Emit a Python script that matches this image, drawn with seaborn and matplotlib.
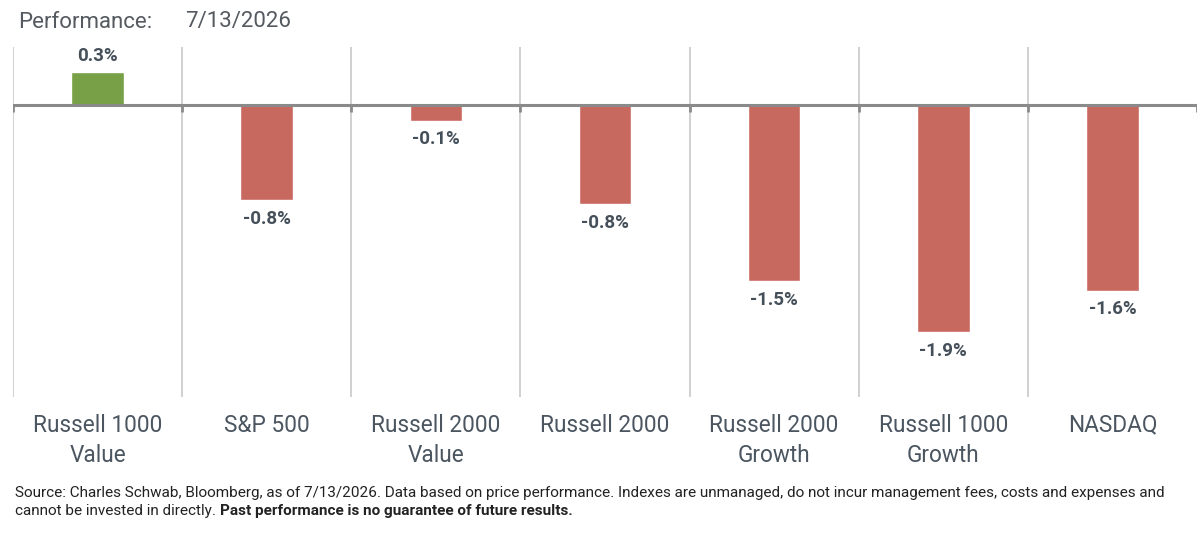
import numpy as np
import pandas as pd
import matplotlib.pyplot as plt
import seaborn as sns

# index names and one-day performance (%)
categories = ["Russell 1000\nValue", "S&P 500", "Russell 2000\nValue", "Russell 2000",
              "Russell 2000\nGrowth", "Russell 1000\nGrowth", "NASDAQ"]
values = [0.28, -0.80, -0.13, -0.83, -1.48, -1.91, -1.56]
labels = ["0.3%", "-0.8%", "-0.1%", "-0.8%", "-1.5%", "-1.9%", "-1.6%"]

GREEN = "#78a046"
RED = "#c8695f"
TXT = "#444f59"

sns.set_theme(style="white")
plt.rcParams["font.family"] = ["Roboto", "DejaVu Sans"]

df = pd.DataFrame({"index": categories, "perf": values})
colors = [GREEN if v >= 0 else RED for v in values]

fig = plt.figure(figsize=(12, 5.37), dpi=100)
ax = fig.add_axes([13 / 1200, 1 - 397 / 537, 1184 / 1200, 350 / 537])

sns.barplot(data=df, x="index", y="perf", hue="index", palette=colors,
            legend=False, width=0.31, saturation=1, ax=ax)

ax.set_xlim(-0.5, 6.5)
ax.set_ylim(-2.455, 0.49)

# category separators and zero line
ax.vlines(np.arange(-0.5, 6.0, 1.0), -2.455, 0.49, color="#c8c8c8", lw=1.2, zorder=0)
ax.axhline(0, color="#8a8a8a", lw=2.2, zorder=3)
ax.vlines(np.arange(-0.5, 7.0, 1.0), -0.06, 0, color="#8a8a8a", lw=2, zorder=3)

# data labels
for i, (v, lab) in enumerate(zip(values, labels)):
    if v >= 0:
        ax.annotate(lab, (i, v), xytext=(0, 5), textcoords="offset points",
                    ha="center", va="bottom", fontsize=13.5, fontweight="bold", color=TXT)
    else:
        ax.annotate(lab, (i, v), xytext=(0, -7), textcoords="offset points",
                    ha="center", va="top", fontsize=13.5, fontweight="bold", color=TXT)

ax.set_xlabel("")
ax.set_ylabel("")
ax.set_yticks([])
ax.tick_params(axis="x", length=0, pad=12, labelsize=16.3, labelcolor="#4b5661")
for t in ax.get_xticklabels():
    t.set_linespacing(1.4)
for s in ax.spines.values():
    s.set_visible(False)

# title
fig.text(18 / 1200, 1 - 22 / 537, "Performance:", fontsize=16, color="#555a60", va="center")
fig.text(185 / 1200, 1 - 22 / 537, "7/13/2026", fontsize=16, color="#555a60", va="center")

# footnote
fig.text(15 / 1200, 1 - 493 / 537,
         "Source: Charles Schwab, Bloomberg, as of 7/13/2026. Data based on price performance. "
         "Indexes are unmanaged, do not incur management fees, costs and expenses and",
         fontsize=11.0, color="#222222", va="center")
t1 = fig.text(15 / 1200, 1 - 511 / 537, "cannot be invested in directly. ",
              fontsize=11.0, color="#222222", va="center")
fig.canvas.draw()
bb = t1.get_window_extent()
fig.text(bb.x1 / 1200, 1 - 511 / 537, "Past performance is no guarantee of future results.",
         fontsize=11.0, color="#222222", fontweight="bold", va="center")

fig.savefig("out.png", dpi=100)
